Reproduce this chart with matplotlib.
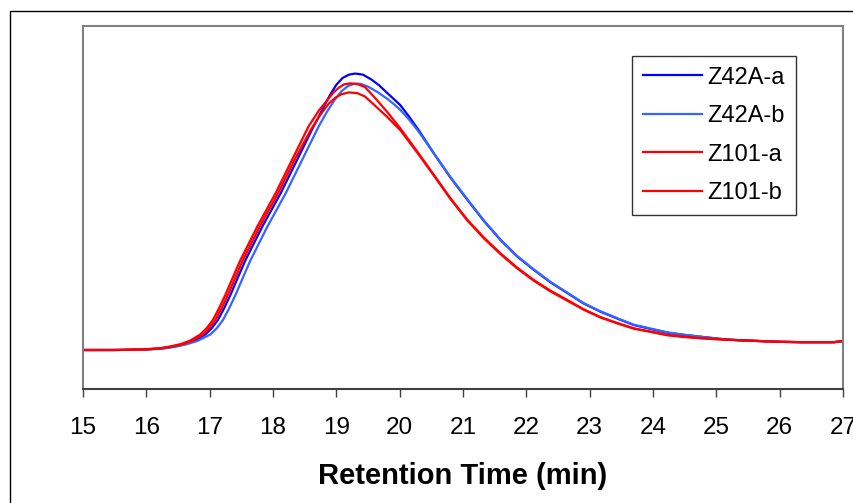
import matplotlib.pyplot as plt
from matplotlib.patches import Rectangle

plt.rcParams['font.family'] = ['Liberation Sans', 'DejaVu Sans']

# detector signal (arbitrary units)
t_z42a_a = [15.0, 15.5, 16.0, 16.25, 16.45, 16.6, 16.75, 16.93, 17.03, 17.13, 17.23, 17.33,
            17.44, 17.56, 17.83, 18.12, 18.38, 18.64, 18.78, 18.9, 19.0, 19.1, 19.2, 19.3,
            19.42, 19.55, 19.68, 19.8, 19.9, 20.01, 20.15, 20.3, 20.54, 20.8, 21.07, 21.33,
            21.59, 21.85, 22.12, 22.38, 22.65, 22.9, 23.17, 23.45, 23.7, 24.0, 24.23, 24.5,
            24.75, 25.12, 25.4, 25.7, 26.0, 26.34, 26.86, 27.0]
z42a_a = [10.74, 10.74, 10.88, 11.2, 11.7, 12.3, 13.2, 15.0, 16.7, 19.0, 22.3, 26.0,
          30.5, 35.3, 44.7, 53.9, 63.1, 72.3, 77.0, 81.0, 83.8, 85.7, 86.6, 86.9,
          86.6, 85.3, 83.6, 81.6, 80.0, 78.2, 75.0, 71.3, 64.9, 58.3, 52.1, 46.3,
          41.1, 36.6, 32.8, 29.4, 26.4, 23.6, 21.3, 19.3, 17.6, 16.4, 15.5, 14.9,
          14.4, 13.7, 13.4, 13.2, 13.0, 12.9, 12.9, 13.2]

t_z42a_b = [15.0, 15.5, 16.0, 16.3, 16.5, 16.65, 16.8, 17.01, 17.11, 17.21, 17.31, 17.41,
            17.52, 17.64, 17.91, 18.2, 18.46, 18.72, 18.86, 18.98, 19.08, 19.18, 19.28, 19.38,
            19.5, 19.65, 19.8, 19.9, 20.01, 20.15, 20.3, 20.54, 20.8, 21.07, 21.33,
            21.59, 21.85, 22.12, 22.38, 22.65, 22.9, 23.17, 23.45, 23.7, 24.0, 24.23, 24.5,
            24.75, 25.12, 25.4, 25.7, 26.0, 26.34, 26.86, 27.0]
z42a_b = [10.74, 10.74, 10.83, 11.2, 11.8, 12.4, 13.2, 15.0, 16.7, 19.0, 22.3, 26.0,
          30.5, 35.3, 44.7, 53.9, 63.1, 72.3, 76.6, 79.8, 82.0, 83.4, 84.1, 84.1,
          83.3, 81.8, 80.0, 78.6, 76.9, 74.2, 70.9, 64.9, 58.4, 52.2, 46.4,
          41.2, 36.7, 32.9, 29.5, 26.5, 23.7, 21.4, 19.4, 17.7, 16.5, 15.6, 14.9,
          14.4, 13.7, 13.4, 13.2, 13.0, 12.9, 12.9, 13.2]

t_z101_a = [15.0, 15.5, 15.95, 16.2, 16.4, 16.55, 16.7, 16.85, 16.95, 17.05, 17.15, 17.25,
            17.36, 17.48, 17.75, 18.04, 18.3, 18.56, 18.72, 18.83, 18.95, 19.04, 19.12,
            19.22, 19.33, 19.45, 19.59, 19.8, 20.01, 20.27, 20.54, 20.8, 21.07, 21.33,
            21.59, 21.85, 22.12, 22.38, 22.65, 22.9, 23.17, 23.45, 23.7, 24.0, 24.23, 24.5,
            24.75, 25.12, 25.4, 25.7, 26.0, 26.34, 26.86, 27.0]
z101_a = [10.74, 10.74, 10.94, 11.2, 11.8, 12.4, 13.4, 15.0, 16.7, 19.0, 22.3, 26.0,
          30.5, 35.3, 44.7, 53.9, 63.1, 72.3, 76.6, 79.0, 81.6, 83.0, 83.9,
          84.2, 84.0, 83.2, 80.6, 76.4, 71.8, 65.6, 59.0, 52.6, 46.6, 41.7,
          37.4, 33.5, 30.0, 27.1, 24.5, 22.0, 19.8, 18.1, 16.7, 15.7, 14.9, 14.4,
          14.0, 13.6, 13.4, 13.2, 13.0, 12.9, 12.9, 13.2]

t_z101_b = [15.0, 15.5, 15.98, 16.24, 16.44, 16.59, 16.74, 16.89, 16.99, 17.09, 17.19, 17.29,
            17.4, 17.52, 17.79, 18.08, 18.34, 18.6, 18.75, 18.88, 18.98, 19.08, 19.2,
            19.33, 19.45, 19.59, 19.8, 20.01, 20.27, 20.54, 20.8, 21.07, 21.33,
            21.59, 21.85, 22.12, 22.38, 22.65, 22.9, 23.17, 23.45, 23.7, 24.0, 24.23, 24.5,
            24.75, 25.12, 25.4, 25.7, 26.0, 26.34, 26.86, 27.0]
z101_b = [10.74, 10.74, 10.9, 11.2, 11.8, 12.4, 13.4, 15.0, 16.7, 19.0, 22.3, 26.0,
          30.5, 35.3, 44.7, 53.9, 63.1, 71.5, 75.6, 78.6, 80.2, 81.2, 81.7,
          81.5, 80.6, 78.4, 75.0, 71.3, 65.3, 58.8, 52.4, 46.4, 41.5,
          37.2, 33.3, 29.8, 26.9, 24.3, 21.9, 19.7, 18.0, 16.6, 15.6, 14.8, 14.3,
          14.0, 13.6, 13.4, 13.2, 13.0, 12.9, 12.9, 13.2]

series = [
    ('Z42A-a', t_z42a_a, z42a_a, '#0000FF'),
    ('Z42A-b', t_z42a_b, z42a_b, '#3366FF'),
    ('Z101-a', t_z101_a, z101_a, '#FF0000'),
    ('Z101-b', t_z101_b, z101_b, '#FF0000'),
]
xticks = list(range(15, 28))

fig = plt.figure(figsize=(8.54, 5.03), dpi=100)
ax = fig.add_axes([83 / 854, 114 / 503, 760 / 854, 363 / 503])

for name, t, y, c in series:
    ax.plot(t, y, color=c, lw=1.6, label=name)

ax.set_xlim(15, 27)
ax.set_ylim(0, 100)
ax.set_xticks(xticks)
ax.set_yticks([])
ax.tick_params(axis='x', direction='out', length=6, width=1, color='#404040',
               labelsize=17.5, pad=14)

for side in ['left', 'top', 'right']:
    ax.spines[side].set_color('#808080')
    ax.spines[side].set_linewidth(1.5)
ax.spines['bottom'].set_color('#404040')
ax.spines['bottom'].set_linewidth(1.5)

ax.set_xlabel('Retention Time (min)', fontsize=21, fontweight='bold', labelpad=17)

leg = ax.legend(loc='upper left', bbox_to_anchor=(632 / 854, 1 - 56 / 503),
                bbox_transform=fig.transFigure, fontsize=17, frameon=True,
                fancybox=False, borderaxespad=0, handlelength=2.5,
                handletextpad=0.25, labelspacing=0.7, borderpad=0.45)
leg.get_frame().set_edgecolor('black')
leg.get_frame().set_linewidth(1)
for line in leg.get_lines():
    line.set_linewidth(1.6)

# outer chart border
fig.patches.append(Rectangle((10.5 / 854, -0.05), 1, 1 - 10.5 / 503 + 0.05,
                             transform=fig.transFigure, fill=False,
                             edgecolor='black', lw=1))

plt.savefig('out.png', dpi=100)
plt.close()
